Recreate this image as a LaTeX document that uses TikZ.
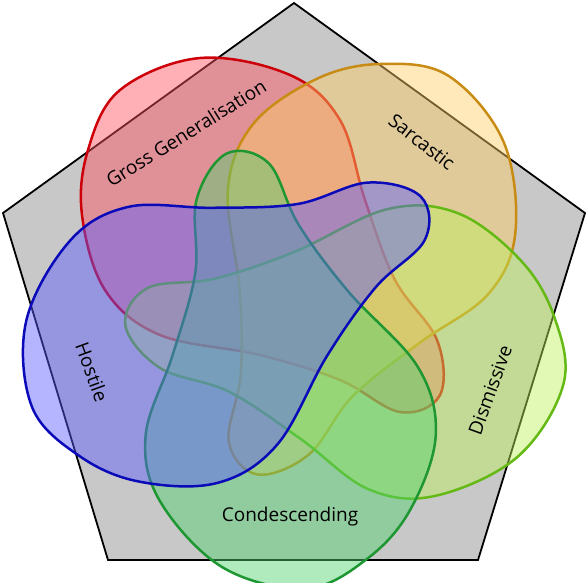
\documentclass[tikz,border=0pt]{standalone}
\usepackage{fontspec}
\setmainfont{Open Sans}
\begin{document}
\begin{tikzpicture}[x=1pt,y=1pt,
  setc/.style={line width=2.5pt,fill opacity=0.45},
  lbl/.style={font=\fontsize{19}{22}\selectfont}]
\useasboundingbox (0,0) rectangle (588,-582);
\definecolor{rF}{RGB}{255,80,95}\definecolor{rD}{RGB}{205,0,10}
\definecolor{oF}{RGB}{255,205,100}\definecolor{oD}{RGB}{200,140,20}
\definecolor{lF}{RGB}{190,240,90}\definecolor{lD}{RGB}{100,185,20}
\definecolor{gF}{RGB}{80,210,110}\definecolor{gD}{RGB}{30,150,50}
\definecolor{bF}{RGB}{90,90,255}\definecolor{bD}{RGB}{10,10,185}
\draw[line width=1.8pt,fill={rgb,255:red,200;green,200;blue,200}] (294,-3) -- (585,-213) -- (478,-560) -- (108,-560) -- (3,-213) -- cycle;
\def\blob{plot[smooth cycle,tension=0.6] coordinates{(-212,94)(-189,19)(-134,-26)(-34,-46)(46,-71)(106,-103)(146,-86)(143,-31)(101,29)(71,109)(46,189)(-4,234)(-94,251)(-174,219)(-206,159)}}
\begin{scope}[shift={(294,-309)}]
\draw[setc,draw=rD,fill=rF] \blob;
\draw[setc,draw=oD,fill=oF,rotate=-72] \blob;
\draw[setc,draw=lD,fill=lF,rotate=-144] \blob;
\draw[setc,draw=gD,fill=gF,rotate=-216] \blob;
\draw[setc,draw=bD,fill=bF,rotate=-288] \blob;
\end{scope}
\node[lbl,rotate=32] (gg) at (186,-133) {Gross Generalisation};
\node[lbl,rotate=-38] (sa) at (422,-142) {Sarcastic};
\node[lbl,rotate=70] (di) at (490,-390) {Dismissive};
\node[lbl] (co) at (290,-517) {Condescending};
\node[lbl,rotate=-70] (ho) at (92,-372) {Hostile};
\end{tikzpicture}
\end{document}
